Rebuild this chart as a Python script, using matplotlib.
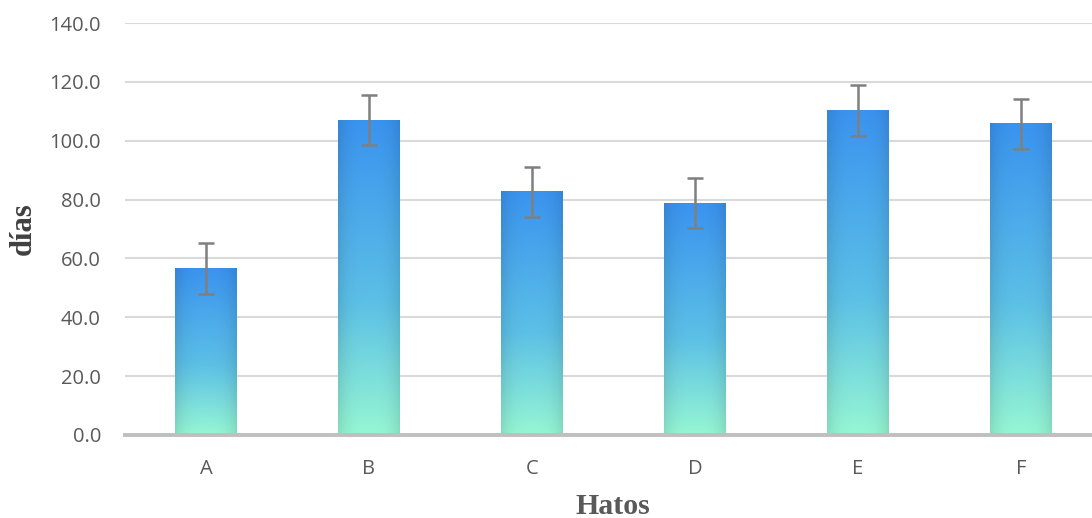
import matplotlib
matplotlib.use("Agg")
import matplotlib.pyplot as plt
import numpy as np
from matplotlib.colors import to_rgb

categories = ["A", "B", "C", "D", "E", "F"]
values = [56.5, 107.0, 82.6, 78.8, 110.2, 105.7]
errors = [8.6, 8.6, 8.6, 8.6, 8.6, 8.6]
yticks = [0, 20, 40, 60, 80, 100, 120, 140]

W, H = 1092, 518
fig = plt.figure(figsize=(W / 100, H / 100), dpi=100)
left_px, right_px, bot_px, top_px = 124.5, 1102.5, 435, 23
ax = fig.add_axes([left_px / W, (H - bot_px) / H, (right_px - left_px) / W, (bot_px - top_px) / H])

x = np.arange(len(categories))
width = 0.38

# gradient image
top = np.array(to_rgb("#3A93EF"))
mid = np.array(to_rgb("#5CC0E6"))
bot = np.array(to_rgb("#96F7D3"))
n = 200
t = np.linspace(0, 1, n)[:, None]  # 0 top -> 1 bottom
col = np.where(t < 0.58, top + (mid - top) * (t / 0.58), mid + (bot - mid) * ((t - 0.58) / 0.42))
m = 60
s = np.linspace(-1, 1, m)[None, :]
edge = 1 - 0.10 * np.abs(s) ** 3
img = col[:, None, :] * edge[:, :, None]
img = np.clip(img, 0, 1)

bars = ax.bar(x, values, width=width, color="none", zorder=2)
for b in bars:
    x0, y0 = b.get_x(), b.get_y()
    w, h = b.get_width(), b.get_height()
    ax.imshow(img, extent=(x0, x0 + w, y0, y0 + h), aspect="auto", zorder=2, interpolation="bilinear")

ax.errorbar(x, values, yerr=errors, fmt="none", ecolor="#7F7F7F", elinewidth=1.8,
            capsize=6, capthick=1.8, zorder=3)

ax.set_xlim(-0.5, len(categories) - 0.5)
ax.set_ylim(0, 140)
ax.set_yticks(yticks)
ax.set_yticklabels([f"{v:.1f}" for v in yticks])
ax.set_xticks(x)
ax.set_xticklabels(categories)
ax.grid(axis="y", color="#D9D9D9", linewidth=1.5, zorder=0)
ax.set_axisbelow(True)
for sp in ["top", "right", "left"]:
    ax.spines[sp].set_visible(False)
ax.spines["bottom"].set_color("#BFBFBF")
ax.spines["bottom"].set_linewidth(2.8)
ax.spines["bottom"].set_zorder(4)
ax.tick_params(axis="both", length=0, labelsize=14.5, labelcolor="#595959")
ax.tick_params(axis="y", pad=17)
ax.tick_params(axis="x", pad=17)
for lbl in ax.get_xticklabels() + ax.get_yticklabels():
    lbl.set_fontfamily("Open Sans")

fig.text(23 / W, (H - 229) / H, "días", rotation=90, ha="center", va="center",
         fontfamily="Liberation Serif", fontweight="bold", fontsize=22, color="#404040")
fig.text(613 / W, (H - 506) / H, "Hatos", ha="center", va="center",
         fontfamily="Liberation Serif", fontweight="bold", fontsize=21.5, color="#595959")

fig.savefig("out.png", dpi=100)
